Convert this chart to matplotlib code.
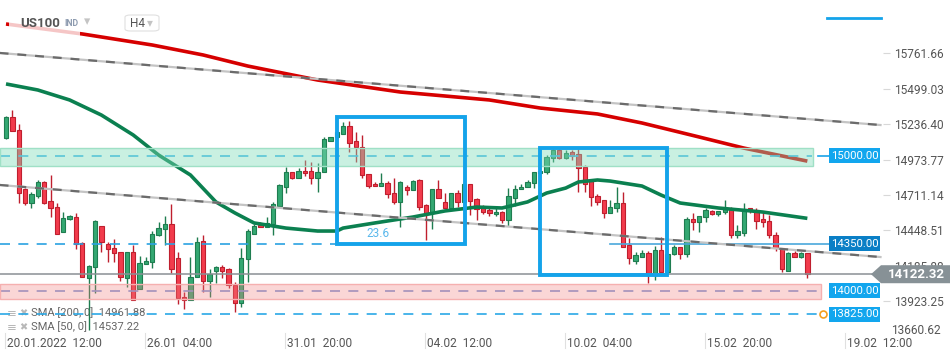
import matplotlib
matplotlib.use("Agg")
import matplotlib.pyplot as plt
from matplotlib.patches import Rectangle, Polygon, FancyBboxPatch

plt.rcParams['font.family'] = ['Roboto', 'DejaVu Sans']

# ---------------- data ----------------
opens = [15136, 15287, 15193, 14753, 14654, 14706, 14805, 14663, 14619, 14438,
         14530, 14545, 14352, 14097, 14178, 14478, 14347, 14314, 14287, 14097,
         14287, 14010, 14196, 14210, 14413, 14455, 14495, 14240, 13951, 13931,
         14099, 14369, 14074, 14149, 14178, 14159, 14042, 13906, 14233, 14418,
         14488, 14470, 14495, 14631, 14772, 14879, 14839, 14891, 14889, 14839,
         14879, 15114, 15139, 15166, 15223, 15111, 15069, 14864, 14792, 14780,
         14797, 14723, 14661, 14772, 14748, 14822, 14636, 14579, 14753, 14661,
         14611, 14723, 14656, 14790, 14678, 14611, 14597, 14567, 14582, 14522,
         14691, 14753, 14767, 14797, 14871, 14879, 14983, 15045, 14983, 15027,
         15012, 14921, 14814, 14703, 14671, 14574, 14611, 14649, 14339, 14223,
         14253, 14277, 14129, 14302, 14141, 14272, 14327, 14270, 14530, 14507,
         14545, 14594, 14567, 14582, 14604, 14413, 14426, 14616, 14599, 14532,
         14517, 14413, 14314, 14146, 14277, 14248, 14277]
highs = [15297, 15342, 15235, 14760, 14730, 14822, 14817, 14859, 14649, 14582,
         14562, 14574, 14364, 14191, 14525, 14483, 14364, 14384, 14290, 14287,
         14339, 14260, 14250, 14443, 14512, 14554, 14644, 14290, 13993, 14248,
         14396, 14413, 14161, 14183, 14191, 14166, 14067, 14314, 14458, 14493,
         14507, 14550, 14661, 14792, 14921, 14884, 14908, 14970, 14958, 14946,
         15139, 15144, 15181, 15250, 15260, 15176, 15156, 14864, 14809, 14871,
         14814, 14839, 14814, 14785, 14822, 14829, 14641, 14753, 14822, 14723,
         14723, 14748, 14790, 14790, 14686, 14636, 14611, 14624, 14592, 14760,
         14785, 14790, 14822, 14884, 14921, 15007, 15057, 15057, 15045, 15045,
         15057, 14933, 14822, 14718, 14673, 14673, 14767, 14730, 14394, 14290,
         14302, 14297, 14334, 14396, 14272, 14339, 14327, 14545, 14574, 14554,
         14616, 14599, 14592, 14673, 14619, 14488, 14649, 14616, 14611, 14592,
         14562, 14438, 14319, 14290, 14295, 14290, 14277]
lows = [15124, 15186, 14654, 14636, 14611, 14686, 14644, 14550, 14418, 14438,
        14525, 14307, 14104, 13708, 13980, 14290, 14215, 14215, 14072, 14030,
        13931, 14010, 14196, 14166, 14408, 14339, 14129, 13901, 13862, 13931,
        14099, 13993, 13956, 14060, 14097, 14018, 13844, 13881, 14067, 14418,
        14470, 14470, 14413, 14631, 14723, 14829, 14839, 14854, 14795, 14735,
        14879, 15114, 15139, 15166, 15032, 14953, 14839, 14760, 14775, 14780,
        14686, 14641, 14475, 14710, 14748, 14599, 14376, 14458, 14686, 14611,
        14611, 14624, 14656, 14562, 14525, 14567, 14554, 14554, 14500, 14480,
        14629, 14753, 14767, 14765, 14871, 14864, 14958, 14978, 14978, 14970,
        14730, 14735, 14631, 14636, 14537, 14574, 14582, 14327, 14196, 14196,
        14253, 14055, 14079, 14141, 14141, 14265, 14233, 14253, 14451, 14438,
        14512, 14562, 14557, 14567, 14394, 14394, 14409, 14574, 14456, 14475,
        14389, 14295, 14141, 14146, 14248, 14240, 14097]
closes = [15287, 15186, 14728, 14654, 14718, 14805, 14654, 14611, 14418, 14537,
          14555, 14344, 14104, 14186, 14515, 14364, 14307, 14277, 14104, 14287,
          13931, 14203, 14220, 14418, 14463, 14493, 14158, 13943, 13931, 14104,
          14364, 14074, 14121, 14178, 14149, 14042, 13906, 14240, 14446, 14483,
          14470, 14500, 14641, 14785, 14879, 14839, 14891, 14876, 14839, 14884,
          15124, 15144, 15176, 15225, 15094, 15064, 14859, 14780, 14775, 14800,
          14715, 14661, 14809, 14748, 14817, 14624, 14579, 14753, 14686, 14611,
          14723, 14656, 14790, 14668, 14604, 14587, 14574, 14582, 14522, 14703,
          14753, 14767, 14805, 14879, 14889, 14990, 15045, 14983, 15025, 15002,
          14908, 14790, 14698, 14661, 14574, 14621, 14649, 14327, 14240, 14265,
          14280, 14129, 14302, 14141, 14272, 14327, 14270, 14532, 14507, 14554,
          14599, 14567, 14592, 14606, 14413, 14443, 14604, 14599, 14520, 14512,
          14413, 14314, 14158, 14277, 14248, 14277, 14122]

sma200_idx = [0, 12, 23, 31, 38, 49, 62, 76, 84, 93, 100, 109, 116, 126]
sma200_val = [15980, 15906, 15824, 15750, 15668, 15564, 15475, 15416, 15356,
              15312, 15245, 15141, 15059, 14962]
sma50_idx = [0, 5, 10, 15, 20, 24, 29, 33, 36, 39, 44, 49, 52, 53, 58, 64, 69,
             74, 78, 82, 85, 88, 90, 93, 95, 100, 103, 106, 112, 119, 126]
sma50_val = [15535, 15490, 15416, 15304, 15156, 15007, 14859, 14659, 14577,
             14503, 14465, 14443, 14443, 14465, 14503, 14547, 14592, 14621,
             14614, 14659, 14725, 14762, 14807, 14822, 14814, 14777, 14710,
             14651, 14614, 14584, 14537]
sma200_last = 14961.88
sma50_last = 14537.22

trend_x = [-1, 137.5]
trend_upper = [15765, 15230]
trend_lower = [14785, 14250]

green_zone = (14926, 15059)
red_zone = (13936, 14050)
level_15000 = 15000
level_14350 = 14350
level_14000 = 14000
level_13825 = 13825
last_price = 14122.32

box1_x, box1_y = (52.0, 72.1), (14347, 15287)
box2_x, box2_y = (84.0, 104.0), (14120, 15057)
fib_label = "23.6"

y_ticks = [15761.66, 15499.03, 15236.40, 14973.77, 14711.14, 14448.51, 14185.88, 13923.25]
y_bottom_label = 13660.62
x_tick_labels = ["20.01.2022  12:00", "26.01  04:00", "31.01  20:00", "04.02  12:00",
                 "10.02  04:00", "15.02  20:00", "19.02  12:00"]

# ---------------- layout helpers ----------------
W, H = 950, 360
fig = plt.figure(figsize=(9.5, 3.6), dpi=100)
ax_h_px = 336
ax = fig.add_axes([0, (H - ax_h_px) / H, 883 / W, ax_h_px / H])
X = lambda px: (px - 6) / 6.36          # pixel -> index position (layout only)
PX_PER_UNIT = 0.1347
ax.set_xlim(X(0), X(883))
ax.set_ylim(15000 - (ax_h_px - 156) / PX_PER_UNIT, 15000 + 156 / PX_PER_UNIT)
for s in ax.spines.values():
    s.set_visible(False)
P = lambda py: 15000 - (py - 156) / PX_PER_UNIT  # pixel y -> price (layout only)
dp = lambda pix: pix / PX_PER_UNIT

def fx(px):
    return px / W

def fy(py):
    return 1 - py / H

# ---------------- candles ----------------
G_FACE, G_EDGE = '#34a872', '#1f7d50'
R_FACE, R_EDGE = '#f23b4c', '#bf1f2e'
bw = 0.68
for i, (o, h, l, c) in enumerate(zip(opens, highs, lows, closes)):
    up = c >= o
    face, edge = (G_FACE, G_EDGE) if up else (R_FACE, R_EDGE)
    ax.plot([i, i], [l, h], color=edge, lw=1.0, zorder=2, solid_capstyle='butt')
    bot = min(o, c)
    ht = max(abs(c - o), dp(1.5))
    ax.add_patch(Rectangle((i - bw / 2, bot), bw, ht, facecolor=face,
                           edgecolor=edge, lw=0.8, zorder=2.1))

# ---------------- SMA lines ----------------
ax.plot(sma200_idx, sma200_val, color='#d60000', lw=2.6, zorder=2.4,
        solid_capstyle='butt')
ax.plot(sma50_idx, sma50_val, color='#0b8050', lw=2.6, zorder=2.5,
        solid_capstyle='butt')

# ---------------- horizontal levels ----------------
ax.plot([X(0), X(812)], [level_15000] * 2, color='#3fb6ee', lw=1.2,
        dashes=(6, 5), zorder=2.8)
ax.plot([X(0), X(820)], [level_14000] * 2, color='#7f9ad8', lw=1.2,
        dashes=(6, 5), zorder=2.8)
ax.plot([X(0), X(821)], [level_13825] * 2, color='#2aa8e6', lw=1.2,
        dashes=(6, 5), zorder=2.8)
ax.plot([X(0), X(336)], [level_14350] * 2, color='#2aa2e2', lw=1.2,
        dashes=(6, 5), zorder=2.8)
ax.plot([X(610), X(829)], [level_14350] * 2, color='#4aa8dc', lw=1.2, zorder=2.8)
ax.plot([X(0), X(874)], [last_price] * 2, color='#8a9094', lw=1.1, zorder=2.9,
        clip_on=False)
ax.plot([X(818), X(829)], [level_15000] * 2, color='#1aa3e8', lw=1.2, zorder=2.9)

# ---------------- zones ----------------
ax.add_patch(Rectangle((X(0), green_zone[0]), X(813) - X(0), green_zone[1] - green_zone[0],
                       facecolor='#7fdcb8', alpha=0.42, edgecolor='none', zorder=3))
ax.add_patch(Rectangle((X(0), green_zone[0]), X(813) - X(0), green_zone[1] - green_zone[0],
                       facecolor='none', edgecolor='#9fe0c6', lw=1.0, zorder=3))
ax.add_patch(Rectangle((X(0), red_zone[0]), X(821) - X(0), red_zone[1] - red_zone[0],
                       facecolor='#f08080', alpha=0.32, edgecolor='none', zorder=3))
ax.add_patch(Rectangle((X(0), red_zone[0]), X(821) - X(0), red_zone[1] - red_zone[0],
                       facecolor='none', edgecolor='#f5b0b0', lw=1.0, zorder=3))

# ---------------- trend lines ----------------
for tl in (trend_upper, trend_lower):
    ax.plot(trend_x, tl, color='#c4c4c4', lw=1.6, zorder=3.4)
    ax.plot(trend_x, tl, color='#6b6b6b', lw=1.6, dashes=(4, 4), zorder=3.5)

# ---------------- fib boxes ----------------
for bx, by in ((box1_x, box1_y), (box2_x, box2_y)):
    ax.add_patch(Rectangle((bx[0], by[0]), bx[1] - bx[0], by[1] - by[0],
                           facecolor='none', edgecolor='#14a3ea', lw=2.8, zorder=4))
ax.text(X(378), P(234), fib_label, color='#5ab8ec', fontsize=8.5,
        ha='center', va='center', zorder=4)

# ---------------- right side labels ----------------
def level_box(level, color):
    h = dp(15)
    ax.add_patch(Rectangle((X(829), level - h / 2), X(880) - X(829), h,
                           facecolor=color, edgecolor='none', zorder=10))
    ax.text((X(829) + X(880)) / 2, level, f"{level:.2f}", color='white',
            fontsize=8.2, ha='center', va='center', zorder=11)

level_box(level_15000, '#12a6ee')
level_box(level_14350, '#0a7fc6')
level_box(level_14000, '#12a6ee')
level_box(level_13825, '#12a6ee')
ax.plot([X(823)], [level_13825], marker='o', ms=5, mfc='none', mec='#f5a020',
        mew=1.2, zorder=9)

# current price label
h9 = dp(9)
poly = Polygon([(X(871), last_price), (X(881), last_price + h9), (X(952), last_price + h9),
                (X(952), last_price - h9), (X(881), last_price - h9)],
               closed=True, facecolor='#879196', edgecolor='none', zorder=10,
               clip_on=False)
ax.add_patch(poly)
ax.text(X(916), last_price, f"{last_price:.2f}", color='white', fontsize=9.5,
        fontweight='bold', ha='center', va='center', zorder=11, clip_on=False)

# y ticks on the right
ax.yaxis.tick_right()
ax.set_yticks(y_ticks)
ax.set_yticklabels([f"{v:.2f}" for v in y_ticks])
ax.tick_params(axis='y', length=5, width=0.8, color='#d8d8d8', labelcolor='#555555',
               labelsize=8.6, pad=3)
fig.text(fx(891), fy(331), f"{y_bottom_label:.2f}", color='#555555', fontsize=8.6,
         ha='left', va='center')

# x ticks
xt = [X(7 + 140 * k) for k in range(len(x_tick_labels))]
ax.set_xticks(xt)
ax.set_xticklabels(x_tick_labels, ha='left')
ax.tick_params(axis='x', length=0, labelcolor='#555555', labelsize=8.6, pad=0.5)
for lbl in ax.get_xticklabels():
    lbl.set_x(lbl.get_position()[0])
for x in xt:
    ax.plot([x - 0.3, x - 0.3], [0.01, -0.035], transform=ax.get_xaxis_transform(),
            color='#e0e0e0', lw=0.8, clip_on=False)

# ---------------- top-left header ----------------
fig.patches.append(Rectangle((fx(9), fy(36)), fx(80) - fx(9), 20 / H,
                             transform=fig.transFigure, facecolor='white',
                             alpha=0.78, edgecolor='none', zorder=1))
fig.text(fx(20), fy(23.5), "US100", color='#555555', fontsize=9.5,
         fontweight='bold', ha='left', va='center')
fig.text(fx(64), fy(24), "IND", color='#8e9cb0', fontsize=6.3,
         fontweight='bold', ha='left', va='center')
fig.text(fx(84), fy(22), "▾", color='#c4c4c4', fontsize=9, ha='left', va='center',
         family='DejaVu Sans')
fig.patches.append(FancyBboxPatch((fx(125), fy(31)), fx(159) - fx(125), 16 / H,
                                  boxstyle='round,pad=0,rounding_size=0.006',
                                  transform=fig.transFigure, facecolor='white',
                                  edgecolor='#e0e0e0', lw=0.8, zorder=1))
fig.text(fx(130), fy(23.5), "H4", color='#555555', fontsize=8.5, ha='left', va='center')
fig.text(fx(147), fy(22.5), "▾", color='#c4c4c4', fontsize=8.5, ha='left', va='center',
         family='DejaVu Sans')
fig.lines.append(plt.Line2D([fx(827), fx(881)], [fy(18), fy(18)],
                            transform=fig.transFigure, color='#14a3ea', lw=2))

# ---------------- bottom-left legend ----------------
for py, txt in ((313, f"SMA [200, 0]  {sma200_last:.2f}"),
                (327, f"SMA [50, 0]  {sma50_last:.2f}")):
    ax.text(fx(7), fy(py), "≡", transform=fig.transFigure, color='#b8b8b8',
            fontsize=8.5, ha='left', va='center', zorder=1, family='DejaVu Sans')
    ax.text(fx(19), fy(py), "✖", transform=fig.transFigure, color='#b8b8b8',
            fontsize=7, ha='left', va='center', zorder=1, family='DejaVu Sans')
    ax.text(fx(31), fy(py), txt, transform=fig.transFigure, color='#666666',
            fontsize=8, ha='left', va='center', zorder=1)

fig.savefig("out.png", dpi=100, facecolor='white')
